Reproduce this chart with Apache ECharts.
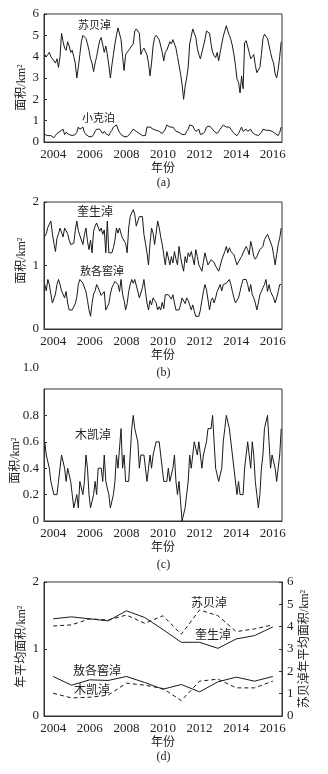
<!DOCTYPE html>
<html>
<head>
<meta charset="utf-8">
<script src="https://cdn.jsdelivr.net/npm/echarts@6/dist/echarts.min.js"></script>
<style>
html,body{margin:0;padding:0;background:#fff;}
#chart{width:328px;height:774px;}
</style>
</head>
<body>
<div id="chart"></div>
<script>
// ---------- DATA ----------
const years = ['2004','2005','2006','2007','2008','2009','2010','2011','2012','2013','2014','2015','2016'];

// monthly series, Jan 2004 .. Dec 2016 (12 values per row = one year)
const subeiMonthly = [
  4.1, 4.0, 4.1, 4.2, 4.0, 3.9, 3.8, 3.7, 3.9, 3.5, 4.0, 5.1,
  4.7, 4.4, 4.3, 4.7, 4.5, 4.2, 4.3, 4.0, 3.7, 3.0, 3.5, 4.1,
  4.7, 5.0, 5.0, 4.85, 4.6, 4.3, 3.9, 3.7, 3.3, 3.7, 4.0, 4.4,
  4.75, 4.9, 4.85, 4.2, 4.5, 4.1, 3.6, 3.0, 3.6, 4.1, 4.6, 5.0,
  5.35, 5.3, 4.8, 4.0, 3.35, 4.1, 4.2, 4.3, 4.4, 4.5, 4.6, 5.2,
  5.3, 5.25, 5.1, 4.1, 4.3, 4.4, 4.4, 4.1, 3.7, 3.1, 3.7, 4.5,
  4.9, 5.0, 5.0, 4.8, 4.5, 4.2, 3.8, 4.2, 4.3, 4.5, 4.7, 4.6,
  4.8, 4.85, 4.4, 4.0, 3.6, 3.2, 2.7, 2.0, 2.6, 3.0, 3.5, 4.6,
  4.95, 5.3, 5.1, 4.9, 4.4, 4.1, 3.9, 4.2, 4.5, 4.8, 5.2, 5.15,
  5.1, 4.6, 4.2, 4.05, 3.95, 4.2, 3.8, 4.2, 4.6, 4.95, 5.2, 5.45,
  5.2, 5.0, 4.8, 4.5, 4.1, 3.6, 2.95, 2.8, 2.3, 3.1, 2.5, 4.65,
  4.75, 4.7, 4.2, 3.9, 4.0, 4.1, 3.6, 3.25, 3.2, 3.5, 4.1, 4.85,
  5.05, 4.95, 4.85, 4.8, 4.2, 3.9, 3.7, 3.2, 3.0, 3.4, 4.0, 4.7
];
const xiaokeMonthly = [
  0.35, 0.3, 0.3, 0.3, 0.3, 0.25, 0.2, 0.3, 0.4, 0.45, 0.5, 0.5,
  0.6, 0.35, 0.45, 0.4, 0.35, 0.35, 0.3, 0.3, 0.35, 0.45, 0.7, 0.6,
  0.65, 0.7, 0.45, 0.35, 0.3, 0.25, 0.2, 0.25, 0.35, 0.5, 0.6, 0.6,
  0.6, 0.55, 0.4, 0.5, 0.4, 0.35, 0.3, 0.45, 0.55, 0.7, 0.75, 0.8,
  0.6, 0.45, 0.35, 0.3, 0.25, 0.2, 0.25, 0.3, 0.4, 0.5, 0.6, 0.55,
  0.5, 0.45, 0.4, 0.35, 0.3, 0.3, 0.3, 0.7, 0.7, 0.7, 0.65, 0.6,
  0.6, 0.55, 0.5, 0.5, 0.45, 0.4, 0.5, 0.6, 0.8, 0.75, 0.7, 0.7,
  0.7, 0.6, 0.5, 0.5, 0.45, 0.4, 0.35, 0.3, 0.35, 0.5, 0.6, 0.8,
  0.8, 0.75, 0.6, 0.5, 0.45, 0.6, 0.35, 0.3, 0.4, 0.5, 0.7, 0.7,
  0.75, 0.7, 0.6, 0.5, 0.45, 0.4, 0.5, 0.6, 0.7, 0.8, 0.75, 0.7,
  0.7, 0.7, 0.6, 0.5, 0.4, 0.35, 0.3, 0.4, 0.55, 0.7, 0.5, 0.55,
  0.6, 0.5, 0.5, 0.6, 0.45, 0.4, 0.35, 0.3, 0.3, 0.35, 0.45, 0.6,
  0.6, 0.55, 0.5, 0.55, 0.6, 0.5, 0.45, 0.4, 0.35, 0.3, 0.45, 0.7
];
const kuishengMonthly = [
  1.46, 1.5, 1.6, 1.65, 1.7, 1.5, 1.35, 1.22, 1.43, 1.5, 1.59, 1.59,
  1.45, 1.59, 1.59, 1.5, 1.4, 1.33, 1.33, 1.35, 1.55, 1.7, 1.55, 1.47,
  1.49, 1.33, 1.49, 1.59, 1.38, 1.25, 1.4, 1.2, 1.54, 1.62, 1.67, 1.7,
  1.54, 1.59, 1.49, 1.56, 1.2, 1.7, 1.2, 1.2, 1.2, 1.28, 1.4, 1.59,
  1.51, 1.59, 1.5, 1.43, 1.4, 1.35, 1.2, 1.59, 1.77, 1.83, 1.88, 1.8,
  1.62, 1.7, 1.77, 1.77, 1.77, 1.49, 1.35, 1.2, 1.01, 1.35, 1.59, 1.51,
  1.33, 1.51, 1.7, 1.6, 1.45, 1.33, 1.17, 1.01, 1.22, 1.12, 1.01, 1.14,
  1.04, 1.22, 1.1, 1.01, 1.3, 1.14, 1.01, 0.91, 1.14, 1.04, 1.2, 1.14,
  1.22, 1.12, 1.01, 1.25, 1.14, 1.01, 0.99, 0.91, 1.06, 1.2, 1.1, 1.01,
  0.99, 1.09, 1.12, 1.05, 0.99, 0.99, 0.91, 0.99, 1.09, 1.06, 1.22, 1.3,
  1.2, 1.28, 1.22, 1.2, 1.17, 1.14, 1.01, 1.06, 1.09, 1.14, 1.2, 1.22,
  1.3, 1.25, 1.17, 1.38, 1.28, 1.14, 1.1, 1.14, 1.2, 1.25, 1.28, 1.3,
  1.41, 1.45, 1.49, 1.43, 1.41, 1.3, 1.17, 1.01, 1.17, 1.33, 1.43, 1.59
];
const aogeMonthly = [
  0.7, 0.6, 0.78, 0.7, 0.55, 0.41, 0.41, 0.55, 0.7, 0.78, 0.7, 0.6,
  0.58, 0.49, 0.59, 0.41, 0.3, 0.3, 0.3, 0.3, 0.4, 0.5, 0.7, 0.78,
  0.78, 0.72, 0.7, 0.59, 0.45, 0.3, 0.2, 0.4, 0.55, 0.6, 0.7, 0.65,
  0.62, 0.53, 0.5, 0.59, 0.3, 0.3, 0.4, 0.55, 0.65, 0.7, 0.75, 0.78,
  0.7, 0.59, 0.78, 0.55, 0.45, 0.3, 0.4, 0.59, 0.7, 0.78, 0.72, 0.78,
  0.78, 0.59, 0.49, 0.49, 0.65, 0.78, 0.59, 0.41, 0.3, 0.45, 0.38, 0.49,
  0.45, 0.41, 0.3, 0.35, 0.3, 0.42, 0.32, 0.54, 0.54, 0.54, 0.54, 0.47,
  0.54, 0.41, 0.3, 0.3, 0.3, 0.38, 0.49, 0.47, 0.4, 0.49, 0.45, 0.38,
  0.3, 0.38, 0.28, 0.2, 0.2, 0.2, 0.3, 0.45, 0.59, 0.7, 0.62, 0.59,
  0.3, 0.45, 0.49, 0.41, 0.49, 0.59, 0.59, 0.7, 0.6, 0.7, 0.7, 0.72,
  0.75, 0.78, 0.7, 0.59, 0.49, 0.41, 0.41, 0.49, 0.59, 0.7, 0.78, 0.78,
  0.78, 0.7, 0.59, 0.7, 0.54, 0.49, 0.41, 0.3, 0.41, 0.54, 0.59, 0.65,
  0.7, 0.78, 0.59, 0.7, 0.59, 0.59, 0.49, 0.41, 0.49, 0.59, 0.7, 0.7
];
const mukaiMonthly = [
  0.6, 0.5, 0.5, 0.4, 0.3, 0.3, 0.2, 0.2, 0.2, 0.3, 0.3, 0.5,
  0.5, 0.4, 0.3, 0.4, 0.4, 0.3, 0.2, 0.1, 0.1, 0.2, 0.1, 0.3,
  0.3, 0.2, 0.3, 0.5, 0.4, 0.2, 0.1, 0.1, 0.2, 0.3, 0.2, 0.4,
  0.4, 0.4, 0.3, 0.5, 0.3, 0.3, 0.2, 0.1, 0.1, 0.2, 0.3, 0.5,
  0.4, 0.4, 0.7, 0.4, 0.5, 0.3, 0.3, 0.3, 0.5, 0.7, 0.8, 0.7,
  0.7, 0.6, 0.4, 0.5, 0.5, 0.5, 0.5, 0.3, 0.3, 0.5, 0.4, 0.5,
  0.5, 0.6, 0.6, 0.6, 0.5, 0.4, 0.3, 0.3, 0.3, 0.4, 0.3, 0.3,
  0.4, 0.5, 0.3, 0.2, 0.3, 0.15, 0.0, 0.0, 0.1, 0.2, 0.3, 0.5,
  0.4, 0.5, 0.6, 0.6, 0.5, 0.6, 0.5, 0.4, 0.5, 0.5, 0.6, 0.7,
  0.7, 0.7, 0.8, 0.6, 0.4, 0.4, 0.3, 0.3, 0.4, 0.6, 0.7, 0.8,
  0.8, 0.7, 0.6, 0.5, 0.4, 0.4, 0.2, 0.3, 0.2, 0.2, 0.2, 0.4,
  0.5, 0.6, 0.6, 0.4, 0.6, 0.5, 0.3, 0.2, 0.1, 0.2, 0.4, 0.5,
  0.7, 0.7, 0.8, 0.6, 0.4, 0.5, 0.5, 0.4, 0.3, 0.4, 0.5, 0.7
];

// annual means (panel d)
const kuishengAnnual = [1.45, 1.48, 1.45, 1.42, 1.57, 1.47, 1.29, 1.10, 1.10, 1.01, 1.15, 1.20, 1.33];
const subeiAnnual    = [4.03, 4.08, 4.35, 4.30, 4.52, 4.15, 4.49, 3.66, 4.75, 4.49, 3.78, 3.90, 4.08];
const aogeAnnual     = [0.59, 0.46, 0.54, 0.53, 0.59, 0.50, 0.40, 0.47, 0.36, 0.51, 0.58, 0.52, 0.59];
const mukaiAnnual    = [0.34, 0.27, 0.28, 0.31, 0.49, 0.46, 0.41, 0.23, 0.52, 0.55, 0.42, 0.42, 0.52];

// month category labels
const months = [];
years.forEach(y => { for (let m = 1; m <= 12; m++) months.push(y + '-' + (m < 10 ? '0' + m : m)); });

// ---------- STYLE ----------
const NUM = '"Liberation Serif", "Times New Roman", "Noto Sans CJK SC", serif';
const CJK = '"Noto Sans CJK SC", sans-serif';
const INK = '#222';
const LINE = '#1a1a1a';

const grids = [
  {left: 44, top: 14, width: 238, height: 128},
  {left: 44, top: 202, width: 238, height: 127},
  {left: 44, top: 389, width: 238, height: 132},
  {left: 44, top: 582, width: 238, height: 134}
].map(g => Object.assign(g, {show: true, borderColor: '#333', borderWidth: 1, backgroundColor: 'transparent'}));

function yearAxis(gi) {
  return {
    type: 'category', gridIndex: gi, data: years, boundaryGap: true,
    axisLine: {lineStyle: {color: '#333', width: 1}},
    axisTick: {inside: true, length: 3, interval: 0, lineStyle: {color: '#333'}},
    axisLabel: {interval: 1, margin: 6, color: INK, fontSize: 13, fontFamily: NUM},
    splitLine: {show: false},
    name: '年份', nameLocation: 'middle', nameGap: 19,
    nameTextStyle: {fontSize: 12, color: INK, fontFamily: CJK}
  };
}
function monthAxis(gi) {
  return {type: 'category', gridIndex: gi, data: months, boundaryGap: true, show: false};
}
function valAxis(gi, max, interval, pos, extra) {
  return Object.assign({
    type: 'value', gridIndex: gi, min: 0, max: max, interval: interval, position: pos,
    axisLine: {show: true, lineStyle: {color: '#333', width: 1}},
    axisTick: {show: true, inside: true, length: 3, lineStyle: {color: '#333'}},
    axisLabel: {margin: 5, color: INK, fontSize: 13, fontFamily: NUM},
    splitLine: {show: false}
  }, extra || {});
}
function line(name, data, xi, yi, dashed) {
  return {
    type: 'line', name: name, data: data, xAxisIndex: xi, yAxisIndex: yi,
    symbol: 'none', smooth: false, animation: false,
    lineStyle: {color: LINE, width: 1, type: dashed ? [4, 3] : 'solid'}
  };
}
function txt(x, y, s, size, align, fam, rot) {
  const e = {type: 'text', x: x, y: y, silent: true,
    style: {text: s, font: size + 'px ' + (fam || CJK), fill: INK, align: align || 'left', verticalAlign: 'middle'}};
  if (rot) e.rotation = rot;
  return e;
}

const option = {
  backgroundColor: '#fff',
  animation: false,
  grid: grids,
  xAxis: [
    yearAxis(0), monthAxis(0),
    yearAxis(1), monthAxis(1),
    yearAxis(2), monthAxis(2),
    yearAxis(3)
  ],
  yAxis: [
    valAxis(0, 6, 1, 'left'),
    valAxis(1, 2, 1, 'left'),
    valAxis(2, 1, 0.2, 'left', {axisLabel: {margin: 5, color: INK, fontSize: 13, fontFamily: NUM, showMaxLabel: false}}),
    valAxis(3, 2, 1, 'left'),
    valAxis(3, 6, 1, 'right')
  ],
  series: [
    line('苏贝淖', subeiMonthly, 1, 0),
    line('小克泊', xiaokeMonthly, 1, 0),
    line('奎生淖', kuishengMonthly, 3, 1),
    line('敖各窖淖', aogeMonthly, 3, 1),
    line('木凯淖', mukaiMonthly, 5, 2),
    line('奎生淖年均', kuishengAnnual, 6, 3),
    line('敖各窖淖年均', aogeAnnual, 6, 3),
    line('木凯淖年均', mukaiAnnual, 6, 3, true),
    line('苏贝淖年均', subeiAnnual, 6, 4, true)
  ],
  graphic: [
    // axis names
    txt(21.7, 87.5, '面积/km²', 12, 'center', NUM, Math.PI / 2),
    txt(21.7, 260.7, '面积/km²', 12, 'center', NUM, Math.PI / 2),
    txt(15.5, 460.7, '面积/km²', 12, 'center', NUM, Math.PI / 2),
    txt(21.7, 646.7, '年平均面积/km²', 12, 'center', NUM, Math.PI / 2),
    txt(305, 649, '苏贝淖年平均面积/km²', 12, 'center', NUM, Math.PI / 2),
    // stray top tick label of panel (c)
    txt(39, 368, '1.0', 13, 'right', NUM),
    // panel captions
    txt(163.5, 182.7, '(a)', 12, 'center', NUM),
    txt(163.5, 373, '(b)', 12, 'center', NUM),
    txt(163.5, 565, '(c)', 12, 'center', NUM),
    txt(163.5, 756.7, '(d)', 12, 'center', NUM),
    // series labels
    txt(78, 25, '苏贝淖', 11),
    txt(82, 118, '小克泊', 11),
    txt(77, 211, '奎生淖', 12),
    txt(80, 271, '敖各窖淖', 11),
    txt(75, 434, '木凯淖', 12),
    txt(191, 602, '苏贝淖', 12),
    txt(195, 634, '奎生淖', 12),
    txt(73, 670, '敖各窖淖', 12),
    txt(74, 689, '木凯淖', 12)
  ]
};

const chart = echarts.init(document.getElementById('chart'), null, {renderer: 'canvas'});
chart.setOption(option);
</script>
</body>
</html>
